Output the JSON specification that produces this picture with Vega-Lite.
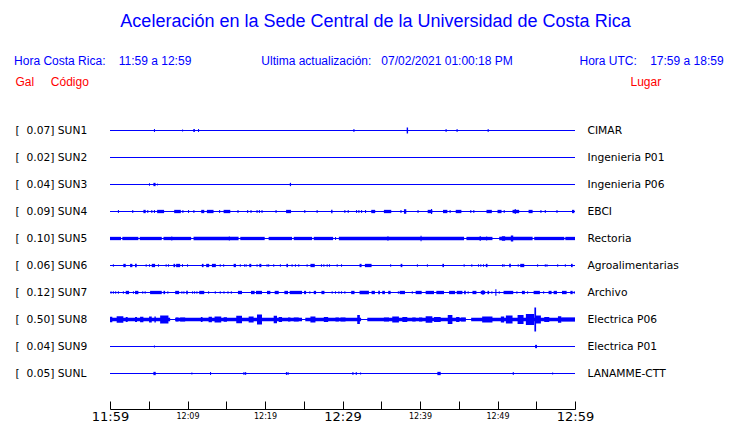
{
  "$schema": "https://vega.github.io/schema/vega-lite/v6.json",
  "width": 465,
  "height": 306,
  "autosize": "none",
  "padding": {"left": 110, "top": 103, "right": 165, "bottom": 14},
  "background": "white",
  "config": {"view": {"stroke": null}},
  "title": {
    "text": "Aceleración en la Sede Central de la Universidad de Costa Rica",
    "subtitle": "Hora Costa Rica:\u00a0\u00a0\u00a0\u00a011:59 a 12:59\u00a0\u00a0\u00a0\u00a0\u00a0\u00a0\u00a0\u00a0\u00a0\u00a0\u00a0\u00a0\u00a0\u00a0\u00a0\u00a0\u00a0\u00a0\u00a0\u00a0\u00a0Ultima actualización:\u00a0\u00a0\u00a007/02/2021 01:00:18 PM\u00a0\u00a0\u00a0\u00a0\u00a0\u00a0\u00a0\u00a0\u00a0\u00a0\u00a0\u00a0\u00a0\u00a0\u00a0\u00a0\u00a0\u00a0\u00a0\u00a0Hora UTC:\u00a0\u00a0\u00a0\u00a017:59 a 18:59\u00a0\u00a0\u00a0\u00a0\u200b",
    "anchor": "middle",
    "frame": "group",
    "dx": 33,
    "offset": 8,
    "color": "#0000ff",
    "font": "Liberation Sans",
    "fontSize": 18,
    "fontWeight": "normal",
    "subtitleColor": "#0000ff",
    "subtitleFont": "Liberation Sans",
    "subtitleFontSize": 12,
    "subtitlePadding": 25
  },
  "datasets": {
    "stations": [
      {"code": "SUN1", "label": "[\u00a0\u00a00.07] SUN1", "lugar": "CIMAR"},
      {"code": "SUN2", "label": "[\u00a0\u00a00.02] SUN2", "lugar": "Ingenieria P01"},
      {"code": "SUN3", "label": "[\u00a0\u00a00.04] SUN3", "lugar": "Ingenieria P06"},
      {"code": "SUN4", "label": "[\u00a0\u00a00.09] SUN4", "lugar": "EBCI"},
      {"code": "SUN5", "label": "[\u00a0\u00a00.10] SUN5", "lugar": "Rectoria"},
      {"code": "SUN6", "label": "[\u00a0\u00a00.06] SUN6", "lugar": "Agroalimentarias"},
      {"code": "SUN7", "label": "[\u00a0\u00a00.12] SUN7", "lugar": "Archivo"},
      {"code": "SUN8", "label": "[\u00a0\u00a00.50] SUN8", "lugar": "Electrica P06"},
      {"code": "SUN9", "label": "[\u00a0\u00a00.04] SUN9", "lugar": "Electrica P01"},
      {"code": "SUNL", "label": "[\u00a0\u00a00.05] SUNL", "lugar": "LANAMME-CTT"}
    ],
    "bursts": [
      {"s":"SUN1","a":5.67,"b":5.8,"h":3},
      {"s":"SUN1","a":9.3,"b":9.43,"h":2},
      {"s":"SUN1","a":10.75,"b":10.95,"h":3},
      {"s":"SUN1","a":11.36,"b":11.49,"h":3},
      {"s":"SUN1","a":31.41,"b":31.54,"h":3},
      {"s":"SUN1","a":38.28,"b":38.46,"h":6},
      {"s":"SUN1","a":43.3,"b":43.43,"h":3},
      {"s":"SUN1","a":44.72,"b":44.85,"h":3},
      {"s":"SUN1","a":48.73,"b":48.86,"h":3},

      {"s":"SUN3","a":5.03,"b":5.16,"h":2.5},
      {"s":"SUN3","a":5.6,"b":5.88,"h":3.3},
      {"s":"SUN3","a":6.08,"b":6.18,"h":2},
      {"s":"SUN3","a":23.2,"b":23.36,"h":3.3},

      {"s":"SUN4","a":1.02,"b":1.15,"h":3},
      {"s":"SUN4","a":2.87,"b":3.0,"h":3},
      {"s":"SUN4","a":4.31,"b":4.61,"h":3.3},
      {"s":"SUN4","a":4.81,"b":4.94,"h":3},
      {"s":"SUN4","a":5.33,"b":5.46,"h":3},
      {"s":"SUN4","a":5.67,"b":5.8,"h":3},
      {"s":"SUN4","a":6.08,"b":6.98,"h":3.3},
      {"s":"SUN4","a":8.28,"b":9.14,"h":3.3},
      {"s":"SUN4","a":9.34,"b":9.47,"h":3},
      {"s":"SUN4","a":10.07,"b":10.2,"h":3},
      {"s":"SUN4","a":10.76,"b":10.89,"h":3},
      {"s":"SUN4","a":11.77,"b":12.16,"h":3.3},
      {"s":"SUN4","a":12.5,"b":13.36,"h":3.3},
      {"s":"SUN4","a":14.08,"b":14.21,"h":3},
      {"s":"SUN4","a":14.66,"b":15.52,"h":3.3},
      {"s":"SUN4","a":16.45,"b":16.58,"h":3},
      {"s":"SUN4","a":17.7,"b":17.83,"h":3},
      {"s":"SUN4","a":18.13,"b":18.26,"h":3},
      {"s":"SUN4","a":18.91,"b":19.04,"h":3},
      {"s":"SUN4","a":19.21,"b":19.34,"h":3},
      {"s":"SUN4","a":19.55,"b":19.68,"h":3},
      {"s":"SUN4","a":21.36,"b":21.49,"h":3},
      {"s":"SUN4","a":22.72,"b":23.36,"h":3.3},
      {"s":"SUN4","a":25.07,"b":25.2,"h":3},
      {"s":"SUN4","a":26.66,"b":26.79,"h":3},
      {"s":"SUN4","a":28.53,"b":28.71,"h":3.3},
      {"s":"SUN4","a":30.24,"b":30.37,"h":3},
      {"s":"SUN4","a":30.67,"b":30.8,"h":3},
      {"s":"SUN4","a":31.75,"b":31.88,"h":3},
      {"s":"SUN4","a":32.05,"b":32.18,"h":3},
      {"s":"SUN4","a":32.4,"b":32.53,"h":3},
      {"s":"SUN4","a":32.91,"b":33.04,"h":3},
      {"s":"SUN4","a":33.71,"b":34.22,"h":3.3},
      {"s":"SUN4","a":35.34,"b":36.29,"h":3.3},
      {"s":"SUN4","a":37.48,"b":37.61,"h":3},
      {"s":"SUN4","a":37.93,"b":38.23,"h":4.5},
      {"s":"SUN4","a":39.68,"b":39.81,"h":3},
      {"s":"SUN4","a":40.99,"b":41.59,"h":3.3},
      {"s":"SUN4","a":41.42,"b":41.56,"h":5},
      {"s":"SUN4","a":42.97,"b":43.53,"h":3.3},
      {"s":"SUN4","a":43.82,"b":43.95,"h":3},
      {"s":"SUN4","a":44.61,"b":45.34,"h":3.3},
      {"s":"SUN4","a":46.49,"b":46.62,"h":3},
      {"s":"SUN4","a":46.88,"b":47.01,"h":3},
      {"s":"SUN4","a":48.58,"b":49.27,"h":3.3},
      {"s":"SUN4","a":50.0,"b":50.52,"h":3.3},
      {"s":"SUN4","a":50.8,"b":50.93,"h":3},
      {"s":"SUN4","a":51.94,"b":52.8,"h":3.3},
      {"s":"SUN4","a":52.22,"b":52.36,"h":5},
      {"s":"SUN4","a":54.01,"b":54.53,"h":3.3},
      {"s":"SUN4","a":55.54,"b":55.67,"h":3},
      {"s":"SUN4","a":56.1,"b":56.23,"h":3},
      {"s":"SUN4","a":57.61,"b":57.74,"h":3},
      {"s":"SUN4","a":59.61,"b":59.91,"h":3.3},

      {"s":"SUN5","a":0,"b":1.42,"h":3.3},
      {"s":"SUN5","a":1.59,"b":3.66,"h":3.3},
      {"s":"SUN5","a":3.84,"b":6.68,"h":3.3},
      {"s":"SUN5","a":6.9,"b":10.47,"h":3.3},
      {"s":"SUN5","a":10.78,"b":16.59,"h":3.3},
      {"s":"SUN5","a":16.81,"b":19.96,"h":3.3},
      {"s":"SUN5","a":20.47,"b":23.49,"h":3.3},
      {"s":"SUN5","a":23.71,"b":26.08,"h":3.3},
      {"s":"SUN5","a":26.29,"b":28.79,"h":3.3},
      {"s":"SUN5","a":29.53,"b":45.69,"h":3.3},
      {"s":"SUN5","a":45.99,"b":49.35,"h":3.3},
      {"s":"SUN5","a":50.22,"b":54.53,"h":3.3},
      {"s":"SUN5","a":54.74,"b":58.62,"h":3.3},
      {"s":"SUN5","a":58.75,"b":60,"h":3.3},
      {"s":"SUN5","a":7.91,"b":8.04,"h":4},
      {"s":"SUN5","a":15.33,"b":15.46,"h":4},
      {"s":"SUN5","a":29.04,"b":29.17,"h":3},
      {"s":"SUN5","a":35.8,"b":35.93,"h":4.5},
      {"s":"SUN5","a":40.07,"b":40.2,"h":5.5},
      {"s":"SUN5","a":47.7,"b":47.83,"h":5},
      {"s":"SUN5","a":48.54,"b":48.67,"h":4},
      {"s":"SUN5","a":50.56,"b":50.99,"h":4.5},
      {"s":"SUN5","a":51.72,"b":52.03,"h":6},

      {"s":"SUN6","a":0.37,"b":0.5,"h":2.7},
      {"s":"SUN6","a":1.72,"b":2.03,"h":3.3},
      {"s":"SUN6","a":2.59,"b":2.89,"h":3.3},
      {"s":"SUN6","a":3.23,"b":3.45,"h":3.3},
      {"s":"SUN6","a":4.6,"b":4.73,"h":2.7},
      {"s":"SUN6","a":5.03,"b":5.16,"h":2.7},
      {"s":"SUN6","a":5.39,"b":5.82,"h":3.3},
      {"s":"SUN6","a":6.19,"b":6.32,"h":2.7},
      {"s":"SUN6","a":7.18,"b":7.31,"h":2.7},
      {"s":"SUN6","a":7.48,"b":7.61,"h":2.7},
      {"s":"SUN6","a":8.19,"b":8.41,"h":3.3},
      {"s":"SUN6","a":8.53,"b":9.05,"h":3.3},
      {"s":"SUN6","a":9.29,"b":9.42,"h":2.7},
      {"s":"SUN6","a":9.94,"b":10.07,"h":2.7},
      {"s":"SUN6","a":11.85,"b":12.07,"h":3.3},
      {"s":"SUN6","a":12.41,"b":12.8,"h":3.3},
      {"s":"SUN6","a":13.15,"b":13.66,"h":3.3},
      {"s":"SUN6","a":14.16,"b":14.29,"h":2.7},
      {"s":"SUN6","a":14.6,"b":14.73,"h":2.7},
      {"s":"SUN6","a":15.95,"b":16.25,"h":3.3},
      {"s":"SUN6","a":16.75,"b":16.88,"h":2.7},
      {"s":"SUN6","a":17.31,"b":17.44,"h":2.7},
      {"s":"SUN6","a":17.5,"b":17.63,"h":2.7},
      {"s":"SUN6","a":17.97,"b":18.23,"h":3.3},
      {"s":"SUN6","a":18.91,"b":19.04,"h":2.7},
      {"s":"SUN6","a":19.27,"b":19.53,"h":3.3},
      {"s":"SUN6","a":20.2,"b":20.33,"h":2.7},
      {"s":"SUN6","a":20.41,"b":20.54,"h":2.7},
      {"s":"SUN6","a":21.06,"b":21.19,"h":2.7},
      {"s":"SUN6","a":21.92,"b":22.05,"h":2.7},
      {"s":"SUN6","a":22.76,"b":22.97,"h":3.3},
      {"s":"SUN6","a":23.43,"b":23.56,"h":2.7},
      {"s":"SUN6","a":23.86,"b":23.99,"h":2.7},
      {"s":"SUN6","a":24.29,"b":24.42,"h":2.7},
      {"s":"SUN6","a":25.37,"b":25.5,"h":2.7},
      {"s":"SUN6","a":25.86,"b":26.42,"h":3.3},
      {"s":"SUN6","a":27.22,"b":27.35,"h":2.7},
      {"s":"SUN6","a":27.53,"b":27.66,"h":2.7},
      {"s":"SUN6","a":27.96,"b":28.09,"h":2.7},
      {"s":"SUN6","a":28.26,"b":28.39,"h":2.7},
      {"s":"SUN6","a":29.25,"b":29.38,"h":2.7},
      {"s":"SUN6","a":29.81,"b":29.94,"h":2.7},
      {"s":"SUN6","a":32.2,"b":32.46,"h":3.3},
      {"s":"SUN6","a":32.89,"b":33.75,"h":3.3},
      {"s":"SUN6","a":36.15,"b":36.28,"h":2.7},
      {"s":"SUN6","a":37.5,"b":37.72,"h":3.3},
      {"s":"SUN6","a":39.6,"b":39.73,"h":2.7},
      {"s":"SUN6","a":40.89,"b":41.02,"h":2.7},
      {"s":"SUN6","a":42.89,"b":43.1,"h":3.3},
      {"s":"SUN6","a":45.63,"b":45.76,"h":2.7},
      {"s":"SUN6","a":46.62,"b":46.75,"h":2.7},
      {"s":"SUN6","a":47.48,"b":47.61,"h":2.7},
      {"s":"SUN6","a":47.78,"b":47.91,"h":2.7},
      {"s":"SUN6","a":48.13,"b":48.26,"h":2.7},
      {"s":"SUN6","a":48.49,"b":48.71,"h":3.3},
      {"s":"SUN6","a":50.59,"b":50.72,"h":2.7},
      {"s":"SUN6","a":50.78,"b":50.91,"h":2.7},
      {"s":"SUN6","a":51.51,"b":51.72,"h":3.3},
      {"s":"SUN6","a":52.61,"b":52.74,"h":2.7},
      {"s":"SUN6","a":52.93,"b":53.45,"h":3.3},
      {"s":"SUN6","a":55.11,"b":55.24,"h":2.7},
      {"s":"SUN6","a":56.1,"b":56.23,"h":2.7},
      {"s":"SUN6","a":56.32,"b":56.45,"h":2.7},
      {"s":"SUN6","a":57.7,"b":57.83,"h":2.7},
      {"s":"SUN6","a":58.69,"b":58.82,"h":2.7},
      {"s":"SUN6","a":59.48,"b":59.7,"h":3.3},

      {"s":"SUN7","a":0.07,"b":0.2,"h":2.7},
      {"s":"SUN7","a":0.37,"b":0.5,"h":2.7},
      {"s":"SUN7","a":0.67,"b":0.8,"h":2.7},
      {"s":"SUN7","a":1.02,"b":1.15,"h":2.7},
      {"s":"SUN7","a":1.66,"b":1.79,"h":2.7},
      {"s":"SUN7","a":2.03,"b":2.46,"h":3.3},
      {"s":"SUN7","a":2.96,"b":3.09,"h":2.7},
      {"s":"SUN7","a":3.23,"b":3.66,"h":3.3},
      {"s":"SUN7","a":4.16,"b":4.29,"h":2.7},
      {"s":"SUN7","a":4.47,"b":4.6,"h":2.7},
      {"s":"SUN7","a":5.17,"b":6.68,"h":3.3},
      {"s":"SUN7","a":6.9,"b":7.11,"h":3.3},
      {"s":"SUN7","a":7.4,"b":7.53,"h":2.7},
      {"s":"SUN7","a":8.41,"b":8.92,"h":3.3},
      {"s":"SUN7","a":9.21,"b":9.34,"h":2.7},
      {"s":"SUN7","a":9.47,"b":9.6,"h":2.7},
      {"s":"SUN7","a":9.83,"b":10.04,"h":3.3},
      {"s":"SUN7","a":10.59,"b":10.72,"h":2.7},
      {"s":"SUN7","a":10.85,"b":10.98,"h":2.7},
      {"s":"SUN7","a":11.15,"b":11.28,"h":2.7},
      {"s":"SUN7","a":11.51,"b":12.16,"h":3.3},
      {"s":"SUN7","a":12.66,"b":12.79,"h":2.7},
      {"s":"SUN7","a":13.52,"b":13.65,"h":2.7},
      {"s":"SUN7","a":14.16,"b":14.29,"h":2.7},
      {"s":"SUN7","a":14.64,"b":14.77,"h":2.7},
      {"s":"SUN7","a":15.16,"b":15.29,"h":2.7},
      {"s":"SUN7","a":15.59,"b":15.72,"h":2.7},
      {"s":"SUN7","a":16.51,"b":17.03,"h":3.3},
      {"s":"SUN7","a":18.19,"b":18.66,"h":3.3},
      {"s":"SUN7","a":18.84,"b":19.61,"h":3.3},
      {"s":"SUN7","a":20.26,"b":20.69,"h":3.3},
      {"s":"SUN7","a":21.25,"b":21.77,"h":3.3},
      {"s":"SUN7","a":22.5,"b":22.97,"h":3.3},
      {"s":"SUN7","a":23.19,"b":24.78,"h":3.3},
      {"s":"SUN7","a":25.04,"b":25.3,"h":3.3},
      {"s":"SUN7","a":25.72,"b":25.85,"h":2.7},
      {"s":"SUN7","a":26.29,"b":26.59,"h":3.3},
      {"s":"SUN7","a":27.28,"b":27.67,"h":3.3},
      {"s":"SUN7","a":28.6,"b":28.73,"h":2.7},
      {"s":"SUN7","a":29.03,"b":29.16,"h":2.7},
      {"s":"SUN7","a":29.47,"b":29.6,"h":2.7},
      {"s":"SUN7","a":29.81,"b":29.94,"h":2.7},
      {"s":"SUN7","a":30.24,"b":30.37,"h":2.7},
      {"s":"SUN7","a":31.12,"b":31.55,"h":3.3},
      {"s":"SUN7","a":32.2,"b":33.41,"h":3.3},
      {"s":"SUN7","a":33.75,"b":34.18,"h":3.3},
      {"s":"SUN7","a":34.61,"b":34.83,"h":3.3},
      {"s":"SUN7","a":35.13,"b":35.47,"h":3.3},
      {"s":"SUN7","a":35.9,"b":36.21,"h":3.3},
      {"s":"SUN7","a":37.14,"b":37.27,"h":2.7},
      {"s":"SUN7","a":37.37,"b":38.06,"h":3.3},
      {"s":"SUN7","a":38.94,"b":39.07,"h":2.7},
      {"s":"SUN7","a":39.44,"b":40.22,"h":3.3},
      {"s":"SUN7","a":40.73,"b":41.81,"h":3.3},
      {"s":"SUN7","a":42.11,"b":43.1,"h":3.3},
      {"s":"SUN7","a":43.75,"b":44.53,"h":3.3},
      {"s":"SUN7","a":44.74,"b":45.47,"h":3.3},
      {"s":"SUN7","a":45.69,"b":45.91,"h":3.3},
      {"s":"SUN7","a":46.15,"b":46.28,"h":2.7},
      {"s":"SUN7","a":46.77,"b":47.28,"h":3.3},
      {"s":"SUN7","a":47.84,"b":48.41,"h":3.3},
      {"s":"SUN7","a":48.06,"b":48.2,"h":5},
      {"s":"SUN7","a":48.71,"b":48.92,"h":3.3},
      {"s":"SUN7","a":49.21,"b":49.34,"h":2.7},
      {"s":"SUN7","a":49.72,"b":49.86,"h":6.5},
      {"s":"SUN7","a":50.16,"b":50.29,"h":2.7},
      {"s":"SUN7","a":50.78,"b":52.03,"h":3.3},
      {"s":"SUN7","a":52.44,"b":52.57,"h":2.7},
      {"s":"SUN7","a":53.15,"b":53.53,"h":3.3},
      {"s":"SUN7","a":53.82,"b":53.95,"h":2.7},
      {"s":"SUN7","a":54.66,"b":55.47,"h":3.3},
      {"s":"SUN7","a":55.89,"b":56.02,"h":2.7},
      {"s":"SUN7","a":56.59,"b":56.98,"h":3.3},
      {"s":"SUN7","a":57.24,"b":57.67,"h":3.3},
      {"s":"SUN7","a":58.32,"b":58.92,"h":3.3},
      {"s":"SUN7","a":59.4,"b":59.7,"h":3.3},
      {"s":"SUN7","a":59.84,"b":59.97,"h":2.7},

      {"s":"SUN8","a":0,"b":7.76,"h":3.3},
      {"s":"SUN8","a":8.41,"b":24.78,"h":3.3},
      {"s":"SUN8","a":25.2,"b":32.4,"h":3.3},
      {"s":"SUN8","a":33.2,"b":45.9,"h":3.3},
      {"s":"SUN8","a":46.6,"b":60,"h":3.3},
      {"s":"SUN8","a":0,"b":0.3,"h":5.5},
      {"s":"SUN8","a":0.86,"b":1.72,"h":6.5},
      {"s":"SUN8","a":2.03,"b":2.28,"h":5},
      {"s":"SUN8","a":3.23,"b":3.49,"h":5},
      {"s":"SUN8","a":3.88,"b":4.31,"h":5.5},
      {"s":"SUN8","a":5.04,"b":5.39,"h":6},
      {"s":"SUN8","a":5.73,"b":5.91,"h":6},
      {"s":"SUN8","a":6.47,"b":7.54,"h":8},
      {"s":"SUN8","a":8.49,"b":8.84,"h":4},
      {"s":"SUN8","a":9.05,"b":9.7,"h":4},
      {"s":"SUN8","a":11.72,"b":11.94,"h":5},
      {"s":"SUN8","a":12.72,"b":13.15,"h":5.5},
      {"s":"SUN8","a":13.49,"b":14.35,"h":6},
      {"s":"SUN8","a":14.66,"b":15.09,"h":4.5},
      {"s":"SUN8","a":16.29,"b":17.03,"h":7.5},
      {"s":"SUN8","a":17.89,"b":18.53,"h":6},
      {"s":"SUN8","a":18.97,"b":19.61,"h":10},
      {"s":"SUN8","a":21.12,"b":21.55,"h":7.5},
      {"s":"SUN8","a":21.77,"b":22.2,"h":5},
      {"s":"SUN8","a":22.97,"b":23.28,"h":4},
      {"s":"SUN8","a":23.71,"b":24.35,"h":4},
      {"s":"SUN8","a":25.86,"b":26.51,"h":6},
      {"s":"SUN8","a":27.59,"b":28.15,"h":5},
      {"s":"SUN8","a":29.09,"b":29.53,"h":4},
      {"s":"SUN8","a":29.74,"b":30.39,"h":4},
      {"s":"SUN8","a":31.9,"b":32.24,"h":9},
      {"s":"SUN8","a":35.34,"b":36.0,"h":4},
      {"s":"SUN8","a":36.42,"b":37.28,"h":6},
      {"s":"SUN8","a":37.72,"b":38.36,"h":5},
      {"s":"SUN8","a":39.0,"b":39.44,"h":4},
      {"s":"SUN8","a":39.87,"b":40.3,"h":4},
      {"s":"SUN8","a":40.73,"b":41.59,"h":6.5},
      {"s":"SUN8","a":41.81,"b":42.67,"h":5},
      {"s":"SUN8","a":43.58,"b":44.18,"h":9},
      {"s":"SUN8","a":44.66,"b":45.09,"h":5},
      {"s":"SUN8","a":45.3,"b":45.9,"h":4},
      {"s":"SUN8","a":48.02,"b":49.35,"h":6},
      {"s":"SUN8","a":50.43,"b":50.86,"h":6},
      {"s":"SUN8","a":51.08,"b":51.94,"h":8},
      {"s":"SUN8","a":52.59,"b":53.36,"h":9},
      {"s":"SUN8","a":53.66,"b":54.74,"h":11},
      {"s":"SUN8","a":54.76,"b":54.98,"h":24},
      {"s":"SUN8","a":54.96,"b":55.6,"h":8},
      {"s":"SUN8","a":56.03,"b":56.68,"h":5},
      {"s":"SUN8","a":57.8,"b":58.23,"h":6.5},
      {"s":"SUN8","a":58.23,"b":60,"h":4},

      {"s":"SUN9","a":5.67,"b":5.8,"h":2},
      {"s":"SUN9","a":54.85,"b":55.1,"h":3.3},

      {"s":"SUNL","a":5.6,"b":5.9,"h":3.3},
      {"s":"SUNL","a":10.5,"b":10.63,"h":2},
      {"s":"SUNL","a":12.91,"b":13.04,"h":3},
      {"s":"SUNL","a":17.22,"b":17.35,"h":3},
      {"s":"SUNL","a":17.44,"b":17.57,"h":3},
      {"s":"SUNL","a":22.7,"b":22.83,"h":3},
      {"s":"SUNL","a":22.91,"b":23.04,"h":3},
      {"s":"SUNL","a":31.28,"b":31.41,"h":3},
      {"s":"SUNL","a":31.71,"b":31.84,"h":3},
      {"s":"SUNL","a":32.27,"b":32.4,"h":2},
      {"s":"SUNL","a":42.24,"b":42.67,"h":3.3},
      {"s":"SUNL","a":51.97,"b":52.1,"h":3},
      {"s":"SUNL","a":57.05,"b":57.18,"h":2}
    ]
  },
  "layer": [
    {
      "data": {"name": "stations"},
      "mark": {"type": "rule", "color": "#0000ff", "strokeWidth": 1.2},
      "encoding": {
        "y": {
          "field": "label",
          "type": "nominal",
          "sort": null,
          "scale": {"type": "point", "range": [27.5, 270.5], "padding": 0},
          "axis": {
            "orient": "left",
            "ticks": false,
            "domain": false,
            "labelAlign": "left",
            "labelPadding": 95,
            "labelBaseline": "middle",
            "labelFont": "DejaVu Sans",
            "labelFontSize": 10.7,
            "labelColor": "black",
            "title": "Gal\u00a0\u00a0\u00a0\u00a0\u00a0Código",
            "titleColor": "#ff0000",
            "titleFont": "Liberation Sans",
            "titleFontSize": 12,
            "titleFontWeight": "normal",
            "titleAngle": 0,
            "titleAlign": "left",
            "titleBaseline": "middle",
            "titleX": -95,
            "titleY": -22
          }
        }
      }
    },
    {
      "data": {"name": "stations"},
      "mark": {"type": "rule", "color": "#0000ff", "strokeWidth": 1.2, "strokeOpacity": 0},
      "encoding": {
        "y": {
          "field": "lugar",
          "type": "nominal",
          "sort": null,
          "scale": {"type": "point", "range": [27.5, 270.5], "padding": 0},
          "axis": {
            "orient": "right",
            "ticks": false,
            "domain": false,
            "labelAlign": "left",
            "labelPadding": 12,
            "labelBaseline": "middle",
            "labelFont": "DejaVu Sans",
            "labelFontSize": 10.7,
            "labelColor": "black",
            "title": "Lugar",
            "titleColor": "#ff0000",
            "titleFont": "Liberation Sans",
            "titleFontSize": 12,
            "titleFontWeight": "normal",
            "titleAngle": 0,
            "titleAlign": "left",
            "titleBaseline": "middle",
            "titleX": 55,
            "titleY": -22
          }
        }
      }
    },
    {
      "data": {"name": "bursts"},
      "mark": {"type": "bar", "color": "#0000ff"},
      "encoding": {
        "x": {
          "field": "a",
          "type": "quantitative",
          "scale": {"domain": [0, 60], "nice": false, "zero": false},
          "axis": {
            "values": [0, 5, 10, 15, 20, 25, 30, 35, 40, 45, 50, 55, 60],
            "labelExpr": "datum.value % 10 == 0 ? (floor((datum.value + 59) / 60) + 11) + ':' + ((datum.value + 59) % 60 < 10 ? '0' : '') + ((datum.value + 59) % 60) : ''",
            "labelFontSize": {"condition": {"test": "datum.value % 30 == 0", "value": 13}, "value": 8},
            "labelFont": "DejaVu Sans",
            "labelColor": "black",
            "labelBaseline": "middle",
            "labelPadding": 15,
            "labelFlush": false,
            "labelOverlap": false,
            "labelBound": false,
            "tickSize": -8,
            "tickColor": "black",
            "tickWidth": 1,
            "domainColor": "black",
            "domainWidth": 1,
            "grid": false,
            "title": null
          }
        },
        "x2": {"field": "b"},
        "y": {
          "field": "s",
          "type": "nominal",
          "scale": {"type": "point", "domain": ["SUN1","SUN2","SUN3","SUN4","SUN5","SUN6","SUN7","SUN8","SUN9","SUNL"], "range": [27.5, 270.5], "padding": 0},
          "axis": null
        },
        "size": {
          "field": "h",
          "type": "quantitative",
          "scale": {"domain": [0, 24], "range": [0, 24]},
          "legend": null
        }
      }
    }
  ],
  "resolve": {"scale": {"y": "independent"}, "axis": {"y": "independent"}}
}
